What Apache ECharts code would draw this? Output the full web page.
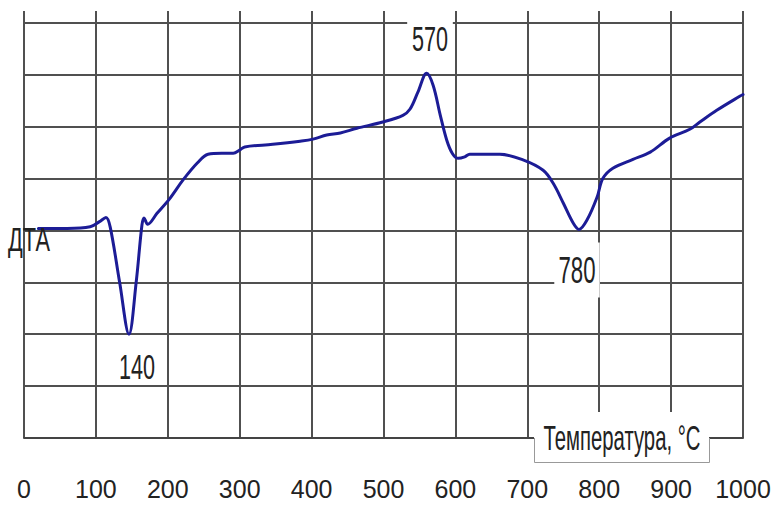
<!DOCTYPE html>
<html>
<head>
<meta charset="utf-8">
<script src="https://cdn.jsdelivr.net/npm/echarts@6/dist/echarts.min.js"></script>
<style>
html,body{margin:0;padding:0;background:#fff;}
#chart{width:771px;height:505px;}
</style>
</head>
<body>
<div id="chart"></div>
<script>
// Temperature, °C
const temps = [20, 60, 92, 105, 114, 120, 133, 146, 156, 164, 167, 172, 185, 203, 221, 241, 256, 275, 291, 300, 307, 346, 384, 402, 421, 440, 463, 499, 527, 537, 548, 560, 569, 579, 588, 596, 604, 613, 620, 662, 694, 722, 736, 750, 764, 772, 783, 797, 805, 819, 847, 871, 898, 926, 940, 964, 996, 1000];
// DTA signal (grid units)
const dta = [4.04, 4.04, 4.07, 4.17, 4.25, 4.06, 3.0, 2.0, 3.0, 4.1, 4.24, 4.12, 4.33, 4.62, 4.97, 5.30, 5.47, 5.49, 5.49, 5.55, 5.61, 5.66, 5.72, 5.76, 5.84, 5.88, 5.97, 6.09, 6.22, 6.34, 6.67, 7.03, 6.80, 6.22, 5.74, 5.48, 5.39, 5.42, 5.47, 5.47, 5.36, 5.16, 4.91, 4.53, 4.14, 4.02, 4.20, 4.64, 5.00, 5.20, 5.37, 5.51, 5.78, 5.95, 6.09, 6.32, 6.59, 6.62];
const xTicks = ['0','100','200','300','400','500','600','700','800','900','1000'];
const peakLabels = ['140', '570', '780'];
const yName = 'ДТА';
const xName = 'Температура, °C';

const chart = echarts.init(document.getElementById('chart'), null, {renderer: 'svg'});
const grid = '#505050';

chart.setOption({
  animation: false,
  backgroundColor: '#fff',
  grid: {left: 24, right: 28, top: 11, bottom: 67, containLabel: false, outerBoundsMode: 'none'},
  xAxis: {
    type: 'value', min: 0, max: 1000, interval: 100,
    axisLine: {show: true, lineStyle: {color: '#444', width: 2}},
    axisTick: {show: false},
    axisLabel: {
      margin: 38, fontSize: 25, color: '#222', fontFamily: '"Liberation Sans", Arial, sans-serif',
      hideOverlap: false,
      formatter: v => xTicks[Math.round(v / 100)]
    },
    splitLine: {show: true, lineStyle: {color: grid, width: 2}}
  },
  yAxis: {
    type: 'value', min: 0, max: 8.23, interval: 1,
    axisLine: {show: false}, axisTick: {show: false}, axisLabel: {show: false},
    splitLine: {show: true, showMinLine: false, showMaxLine: false, lineStyle: {color: grid, width: 2}}
  },
  series: [{
    type: 'line',
    data: temps.map((t, i) => [t, dta[i]]),
    showSymbol: false,
    smooth: 0.35,
    lineStyle: {color: '#1c1c96', width: 3, join: 'round', cap: 'round'},
    z: 5
  }],
  graphic: [
    {type: 'rect', z: 100, shape: {x: 534, y: 412, width: 175, height: 50}, style: {fill: '#fff'}},
    {type: 'polyline', z: 101, shape: {points: [[534.5, 438], [534.5, 462.5], [709.5, 462.5], [709.5, 438]]}, style: {stroke: '#999', lineWidth: 1, fill: null}},
    {type: 'text', z: 102, x: 622, y: 438, scaleX: 0.58, style: {text: xName, font: '35px "Liberation Sans"', fill: '#222', align: 'center', verticalAlign: 'middle'}},
    {type: 'text', z: 102, x: 29, y: 240, scaleX: 0.66, style: {text: yName, font: '33px "Liberation Sans"', fill: '#222', align: 'center', verticalAlign: 'middle'}},
    {type: 'text', z: 102, x: 137, y: 366, scaleX: 0.6, style: {text: peakLabels[0], font: '36px "Liberation Sans"', fill: '#222', align: 'center', verticalAlign: 'middle', backgroundColor: '#fff', padding: [0, 6]}},
    {type: 'text', z: 102, x: 430, y: 38, scaleX: 0.6, style: {text: peakLabels[1], font: '36px "Liberation Sans"', fill: '#222', align: 'center', verticalAlign: 'middle', backgroundColor: '#fff', padding: [4, 8]}},
    {type: 'text', z: 102, x: 577, y: 270, scaleX: 0.6, style: {text: peakLabels[2], font: '37px "Liberation Sans"', fill: '#222', align: 'center', verticalAlign: 'middle', backgroundColor: '#fff', padding: [9, 7]}}
  ]
});
</script>
</body>
</html>
